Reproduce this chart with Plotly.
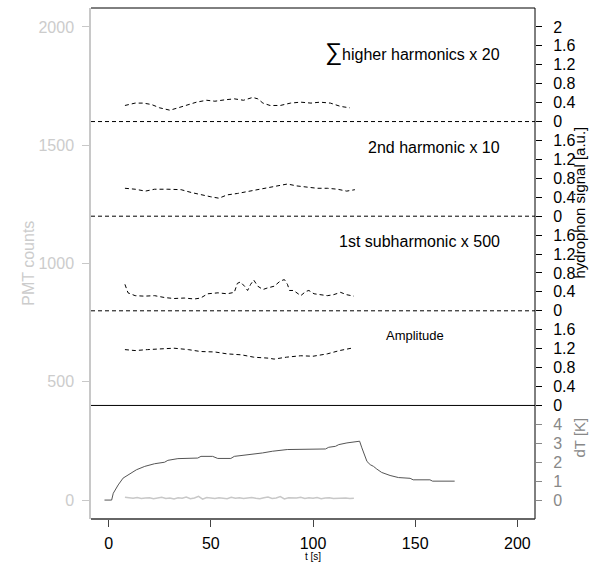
import plotly.graph_objects as go

# ---------------- data ----------------
# hydrophone signal panels (a.u.), time in s
t_hh = [8, 13, 17, 21, 25, 30, 34, 39, 43, 48, 52, 57, 61.5, 66, 70.5, 73, 75.5, 79, 84, 89, 94, 99, 103.5, 108.5, 113.5, 118]
higher_harm = [0.34, 0.39, 0.39, 0.36, 0.29, 0.24, 0.29, 0.36, 0.41, 0.45, 0.43, 0.46, 0.48, 0.45,
               0.51, 0.48, 0.39, 0.34, 0.34, 0.39, 0.41, 0.39, 0.41, 0.39, 0.32, 0.29]

t_h2 = [8, 13, 18, 22.5, 29, 35.5, 40.5, 45, 50, 54, 58, 63, 68, 73, 77.5, 82.5, 87.5, 92, 97, 102, 107, 112, 116.5, 120.5]
second_harm = [0.59, 0.57, 0.53, 0.57, 0.57, 0.56, 0.50, 0.45, 0.41, 0.38, 0.45, 0.48, 0.52, 0.57,
               0.61, 0.64, 0.68, 0.64, 0.61, 0.59, 0.59, 0.57, 0.53, 0.56]

t_sub = [8, 9.5, 13, 17.5, 22.5, 27.5, 32, 37, 42, 45, 48.5, 53.5, 58, 61.5, 63, 64.5, 66.5, 68, 69.5,
         71, 73, 75.5, 77.5, 81, 84, 86, 87.5, 88.5, 90.5, 94, 96.5, 98, 100.5, 103.5, 107, 110, 113.5, 116.5, 120]
first_subharm = [0.56, 0.38, 0.32, 0.31, 0.32, 0.28, 0.26, 0.27, 0.25, 0.27, 0.36, 0.38, 0.36, 0.39, 0.58,
                 0.61, 0.52, 0.43, 0.56, 0.65, 0.52, 0.45, 0.48, 0.52, 0.63, 0.66, 0.56, 0.43, 0.43, 0.32,
                 0.41, 0.43, 0.36, 0.34, 0.32, 0.34, 0.39, 0.34, 0.31]

t_amp = [8, 13, 19, 26, 32, 39, 45, 52, 58, 65, 71, 78, 81, 87, 94, 100, 107, 113, 120]
amplitude = [1.18, 1.16, 1.18, 1.20, 1.21, 1.18, 1.14, 1.13, 1.09, 1.07, 1.02, 1.00, 0.98, 1.02,
             1.05, 1.04, 1.09, 1.16, 1.22]

# temperature difference dT (K)
t_dT = [-2, 1.5, 2.3, 4.7, 7.1, 10.4, 13.6, 17.7, 22.5, 27.4, 29, 33.9, 43.6, 45.2, 50.9, 53.4, 59.8, 61.5,
        69.6, 75.3, 80.1, 87.4, 106.1, 107.7, 111, 112.6, 116.6, 121.5, 122.8, 123.9, 126.4, 128, 129.6,
        131.2, 133.6, 137.7, 141.8, 147.5, 149, 157.2, 158.5, 169.3]
dT = [0, 0, 0.36, 0.8, 1.16, 1.39, 1.6, 1.78, 1.92, 2.0, 2.1, 2.19, 2.22, 2.31, 2.31, 2.2, 2.2, 2.31,
      2.4, 2.49, 2.58, 2.67, 2.7, 2.79, 2.84, 2.93, 3.02, 3.11, 3.11, 2.76, 2.04, 1.87, 1.78,
      1.64, 1.46, 1.3, 1.19, 1.15, 1.07, 1.07, 1.0, 1.0]

# PMT counts
t_pmt = [8 + 2 * i for i in range(57)]
pmt = [12, 9, 8, 11, 7, 9, 10, 6, 8, 12, 7, 9, 5, 10, 8, 13, 6, 9, 16, 4, 11, 8, 7, 10, 9, 6, 12, 8,
       10, 7, 9, 11, 8, 6, 10, 13, 7, 9, 15, 5, 10, 8, 9, 12, 7, 10, 8, 11, 6, 9, 10, 7, 8, 11, 9, 7, 8]

x_ticks = [0, 50, 100, 150, 200]
pmt_ticks = [0, 500, 1000, 1500, 2000]
dT_ticks = [0, 1, 2, 3, 4]
hyd_ticks = [0, 0.4, 0.8, 1.2, 1.6]
panel_labels = ["Amplitude", "1st subharmonic x 500", "2nd harmonic x 10",
                "<span style='font-size:24px'>∑</span>higher harmonics x 20"]

# ---------------- figure ----------------
PMT_RANGE = [-80, 2080]
PANEL_BASE = 400     # bottom of first panel (PMT units)
HYD_SCALE = 200      # PMT units per a.u.
DT_SCALE = 80        # PMT units per K

hyd_range = [(v - PANEL_BASE) / HYD_SCALE for v in PMT_RANGE]
dT_range = [v / DT_SCALE for v in PMT_RANGE]

FONT = "Liberation Sans, Arial, Helvetica, sans-serif"
fig = go.Figure()

series = [(t_amp, amplitude), (t_sub, first_subharm), (t_h2, second_harm), (t_hh, higher_harm)]
for k, (tt, vv) in enumerate(series):
    fig.add_trace(go.Scatter(x=tt, y=[2 * k + v for v in vv], yaxis="y2", mode="lines",
                             line=dict(color="black", width=1, dash="4px,3px"),
                             showlegend=False, hoverinfo="skip"))

fig.add_trace(go.Scatter(x=t_pmt, y=pmt, mode="lines", line=dict(color="#c8c8c8", width=1.5),
                         showlegend=False))
fig.add_trace(go.Scatter(x=t_dT, y=dT, yaxis="y3", mode="lines", line=dict(color="#555555", width=1),
                         showlegend=False))

hyd_vals, hyd_text = [], []
for k in range(4):
    for v in hyd_ticks:
        hyd_vals.append(2 * k + v)
        hyd_text.append(f"{v:g}")
hyd_vals.append(8)
hyd_text.append("2")

fig.update_layout(
    width=596, height=564,
    margin=dict(l=91, r=61, t=8, b=45),
    plot_bgcolor="white", paper_bgcolor="white",
    font=dict(family=FONT, size=16, color="black"),
    xaxis=dict(range=[-8.6, 208.6], tickvals=x_ticks, ticks="outside", ticklen=7, tickcolor="#444",
               showgrid=False, zeroline=False, showline=False,
               tickfont=dict(size=16, color="black"), ticklabelstandoff=3),
    yaxis=dict(range=PMT_RANGE, tickvals=pmt_ticks, ticks="outside", ticklen=7, tickcolor="#c8c8c8",
               showgrid=False, zeroline=False, showline=True, linecolor="#c8c8c8", linewidth=1.5,
               tickfont=dict(size=16, color="#cccccc"), ticklabelstandoff=5),
    yaxis2=dict(range=hyd_range, overlaying="y", side="right", anchor="x", tickvals=hyd_vals,
                ticktext=hyd_text, ticks="outside", ticklen=6, tickcolor="black",
                showgrid=False, zeroline=False, showline=False,
                tickfont=dict(size=16, color="black"), ticklabelstandoff=8),
    yaxis3=dict(range=dT_range, overlaying="y", side="right", anchor="x", tickvals=dT_ticks,
                ticks="outside", ticklen=6, tickcolor="#888888",
                showgrid=False, zeroline=False, showline=False,
                tickfont=dict(size=16, color="#888888"), ticklabelstandoff=8),
)

# frame
fig.add_shape(type="line", xref="paper", yref="paper", x0=0, x1=1, y0=1, y1=1, line=dict(color="black", width=1))
fig.add_shape(type="line", xref="paper", yref="paper", x0=1, x1=1, y0=0, y1=1, line=dict(color="black", width=1))
fig.add_shape(type="line", xref="paper", yref="paper", x0=0, x1=1, y0=0, y1=0, line=dict(color="#333", width=1.5))
# panel separators
for k in range(4):
    fig.add_shape(type="line", xref="paper", yref="y2", x0=0, x1=1, y0=2 * k, y1=2 * k,
                  line=dict(color="black", width=1, dash="solid" if k == 0 else "4px,3px"))

# panel labels
for k, lab in enumerate(panel_labels):
    if k == 0:
        fig.add_annotation(x=150, y=2 * k + 1.48, xref="x", yref="y2", text=lab, showarrow=False,
                           xanchor="center", yanchor="middle", font=dict(size=13, color="black"))
    else:
        fig.add_annotation(x=192.5, y=2 * k + 1.46, xref="x", yref="y2", text=lab, showarrow=False,
                           xanchor="right", yanchor="middle", font=dict(size=16, color="black"))

# axis titles
fig.add_annotation(x=-0.165, y=0.5, xref="paper", yref="paper", text="PMT counts", textangle=-90,
                   showarrow=False, font=dict(size=16, color="#cccccc"))
fig.add_annotation(x=(589 - 91) / 444, y=(519 - 203) / 511, xref="paper", yref="paper",
                   text="hydrophon signal [a.u.]", textangle=-90, showarrow=False,
                   font=dict(size=15, color="black"))
fig.add_annotation(x=(589 - 91) / 444, y=(519 - 460) / 511, xref="paper", yref="paper", text="dT [K]",
                   textangle=-90, showarrow=False, font=dict(size=15, color="#888888"))
fig.add_annotation(x=100, y=-45 / 511, xref="x", yref="paper", text="t [s]", showarrow=False,
                   yanchor="bottom", font=dict(size=10, color="black"))

fig.write_html("out.html")
